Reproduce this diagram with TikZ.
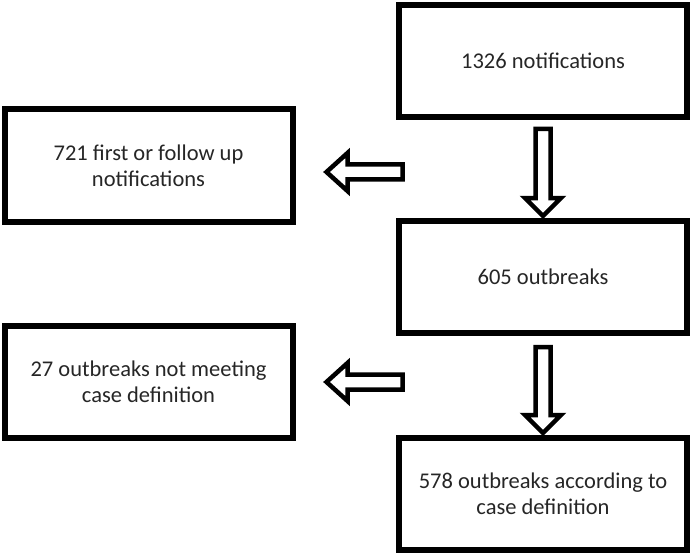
\documentclass[tikz,border=0pt]{standalone}
\usepackage{fontspec}
\setmainfont{Carlito}
\usetikzlibrary{calc}

\begin{document}
\begin{tikzpicture}[x=1pt, y=1pt,
    box/.style={rectangle, draw=black, line width=6pt, fill=white,
        minimum width=288pt, minimum height=112pt, inner sep=4pt,
        align=center, font=\fontsize{22.5}{26}\selectfont, text=black!85},
    hollow/.style={draw=black, line width=4.5pt, line join=miter, fill=white}
]
    \useasboundingbox (0,0) rectangle (692,555);
    \node[box] (notif) at (543,494) {1326 notifications};
    \node[box] (first) at (148.5,389.5) {721 first or follow up\\notifications};
    \node[box] (outb) at (543,278) {605 outbreaks};
    \node[box] (notmeet) at (148.5,173) {27 outbreaks not meeting\\case definition};
    \node[box] (accord) at (543,61) {578 outbreaks according to\\case definition};
    % hollow block arrows
    \coordinate (tipa) at ($(outb.north)+(0,2)$);
    \coordinate (tipb) at ($(accord.north)+(0,2)$);
    \coordinate (tipc) at ($(first.east)+(31,-6.5)$);
    \coordinate (tipd) at ($(notmeet.east)+(31,0)$);
    \draw[hollow] (tipa) -- ++(-18,18) -- ++(10.5,0) -- ++(0,69) -- ++(15,0)
        -- ++(0,-69) -- ++(10.5,0) -- cycle;
    \draw[hollow] (tipb) -- ++(-18,18) -- ++(10.5,0) -- ++(0,68) -- ++(15,0)
        -- ++(0,-68) -- ++(10.5,0) -- cycle;
    \draw[hollow] (tipc) -- ++(21,19) -- ++(0,-11.5) -- ++(55,0) -- ++(0,-15)
        -- ++(-55,0) -- ++(0,-11.5) -- cycle;
    \draw[hollow] (tipd) -- ++(21,19) -- ++(0,-11.5) -- ++(55,0) -- ++(0,-15)
        -- ++(-55,0) -- ++(0,-11.5) -- cycle;
\end{tikzpicture}
\end{document}
